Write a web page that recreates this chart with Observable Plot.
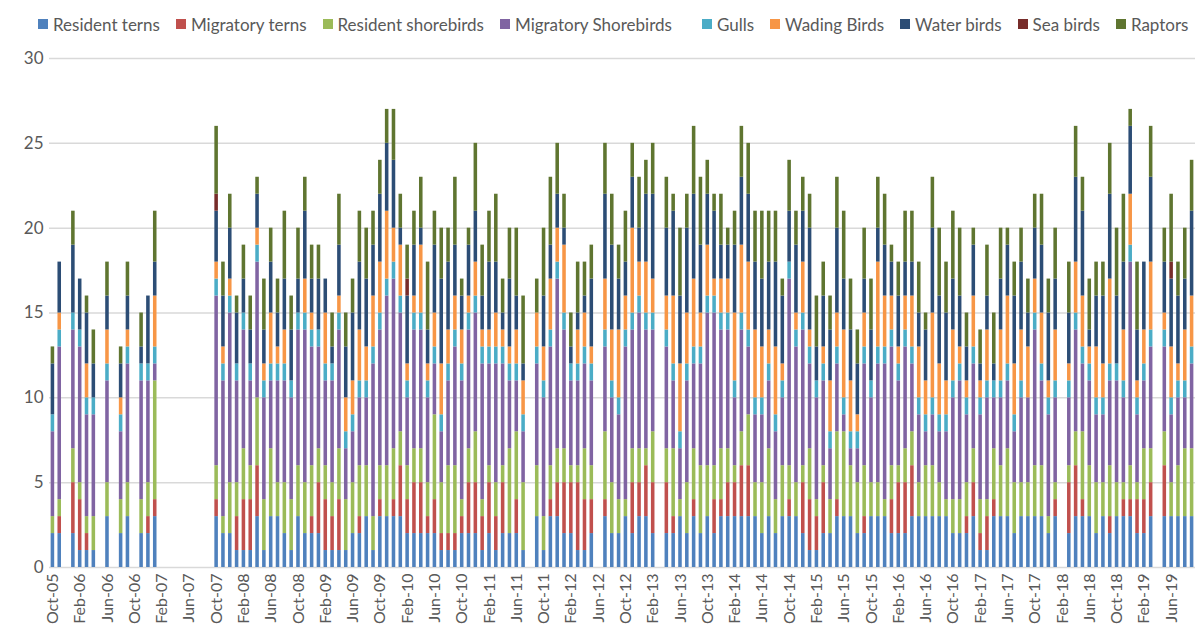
<!DOCTYPE html>
<html>
<head>
<meta charset="utf-8">
<script src="https://cdn.jsdelivr.net/npm/d3@7"></script>
<script src="https://cdn.jsdelivr.net/npm/@observablehq/plot@0.6"></script>
<style>
  body { margin: 0; background: #fff; font-family: Lato, "Open Sans", sans-serif; overflow: hidden; }
  #legend { height: 48px; display: flex; align-items: center; padding-left: 38px; gap: 16px; font-size: 17px; color: #595959; white-space: nowrap; }
  .item { display: flex; align-items: center; gap: 5px; }
  .item.wide { margin-right: 14px; }
  .sw { width: 10px; height: 10px; display: inline-block; }
</style>
</head>
<body>
<div id="legend"></div>
<div id="chart"></div>
<script>
// Categories (stack order bottom -> top) and colours
const categories = ["Resident terns", "Migratory terns", "Resident shorebirds", "Migratory Shorebirds", "Gulls", "Wading Birds", "Water birds", "Sea birds", "Raptors"];
const colors = ["#4F81BD", "#C0504D", "#9BBB59", "#8064A2", "#4BACC6", "#F79646", "#2C4D75", "#772C2A", "#5F7530"];

// Months Oct-05 .. Sep-19 (168 months)
const months = d3.utcMonths(new Date(Date.UTC(2005, 9, 1)), new Date(Date.UTC(2019, 9, 1))).map(d3.utcFormat("%b-%y"));
const tickLabels = months.filter((_, i) => i % 4 === 0);

// Series values, one per month (index 0 = Oct-05)
const residentTerns = [
  2,2,0,2,1,1,1,0,3,0, 2,3,0,2,2,3,0,0,0,0, 0,0,0,0,3,2,2,1,1,1, 3,1,3,3,2,1,3,2,2,2,
  1,1,1,1,2,2,3,1,3,3, 3,3,2,2,2,2,2,1,1,1, 2,2,2,1,2,1,2,2,2,1, 0,3,1,3,3,2,2,1,1,2,
  0,3,2,2,3,2,3,3,2,0, 2,2,3,2,3,2,3,2,3,3, 3,3,3,3,2,3,2,3,3,3, 2,1,1,2,2,3,3,3,2,2,
  3,3,3,2,2,2,3,3,3,3, 3,3,2,2,2,3,1,1,3,3, 3,2,3,3,3,3,2,3,0,2, 3,3,3,2,3,2,3,3,3,2,
  2,3,0,3,3,3,3,3];
const migratoryTerns = [
  0,1,0,3,3,1,0,0,0,0, 0,0,0,0,1,1,0,0,0,0, 0,0,0,0,1,0,0,2,3,3, 3,0,0,0,0,0,0,0,1,3,
  3,2,3,0,0,1,0,0,1,0, 1,3,2,3,3,1,2,1,1,1, 1,3,3,2,3,2,3,0,2,0, 0,0,0,1,2,3,3,4,3,2,
  0,1,0,0,0,3,2,3,3,0, 3,1,0,0,1,0,0,2,1,2, 2,3,3,0,0,0,0,0,1,0, 3,3,2,3,0,1,0,0,0,1,
  0,0,0,2,3,3,3,0,0,0, 0,0,0,0,1,2,1,2,1,0, 0,0,0,0,0,0,0,1,0,3, 3,1,0,0,0,1,0,1,1,2,
  2,2,0,3,0,0,0,0];
const residentShorebirds = [
  1,1,0,2,1,1,2,0,2,0, 2,2,0,2,2,7,0,0,0,0, 0,0,0,0,2,1,3,2,3,2, 4,3,4,2,3,3,3,3,3,2,
  2,2,3,3,3,3,3,2,2,3, 3,2,2,2,2,2,5,3,4,4, 1,2,3,1,1,2,1,5,4,4, 0,3,2,2,2,2,1,1,3,2,
  0,4,3,2,1,2,2,1,3,0, 2,4,1,3,3,4,3,2,3,2, 1,2,3,2,3,4,2,3,2,2, 1,3,1,1,2,4,5,3,3,3,
  2,2,1,2,1,2,2,2,3,3, 2,1,2,2,2,2,2,1,3,3, 4,3,2,2,3,3,1,1,0,1, 2,4,3,3,2,3,2,1,2,1,
  3,2,0,2,2,3,4,4];
const migratoryShorebirds = [
  5,9,0,7,8,6,6,0,6,0, 4,7,0,7,6,1,0,0,0,0, 0,0,0,0,10,8,10,6,7,5, 8,6,4,6,6,6,8,9,7,6,
  5,6,7,3,3,4,4,9,8,10, 10,7,4,7,7,5,3,3,5,7, 7,7,7,8,6,7,6,4,3,3, 0,6,7,7,10,7,5,5,5,5,
  0,5,5,5,9,7,8,7,6,0, 6,4,3,6,5,6,9,9,7,7, 4,6,4,4,4,4,4,4,11,8, 8,5,6,5,3,4,1,1,2,6,
  5,7,8,7,5,6,4,4,2,3, 3,4,6,7,4,5,5,6,3,4, 4,3,5,5,8,5,6,5,0,4, 6,4,5,4,4,5,6,5,12,4,
  4,6,0,5,4,4,3,5];
const gulls = [
  1,1,0,1,1,1,1,0,1,0, 1,1,0,1,1,1,0,0,0,0, 0,0,0,0,1,1,1,1,1,1, 1,1,1,1,1,1,1,1,1,1,
  1,1,1,1,1,1,1,1,1,1, 1,1,1,1,1,1,1,1,1,1, 1,1,1,1,1,1,1,1,1,1, 0,1,1,1,1,1,1,1,1,1,
  0,1,1,1,1,1,1,1,1,0, 1,1,1,1,1,1,1,1,1,1, 1,1,1,1,1,1,1,1,1,1, 1,1,1,1,1,1,1,1,1,1,
  1,1,1,1,1,1,1,1,1,1, 1,1,1,1,1,1,1,1,1,1, 1,1,1,0,1,1,1,1,0,1, 1,1,1,1,1,1,1,1,1,1,
  1,1,0,1,1,1,1,1];
const wadingBirds = [
  0,1,0,0,0,2,0,0,2,0, 1,1,0,0,0,3,0,0,0,0, 0,0,0,0,1,1,1,0,0,0, 1,1,3,1,2,0,0,2,1,0,
  3,0,1,2,2,3,2,3,3,4, 2,3,1,1,4,1,2,3,2,2, 2,1,2,1,1,2,1,1,2,2, 0,2,2,3,2,4,0,2,2,1,
  0,3,3,4,2,5,2,3,2,0, 2,4,4,3,4,2,3,1,2,2, 4,4,4,4,3,2,4,1,0,1, 3,1,0,1,3,2,4,3,1,2,
  0,5,3,2,1,2,3,3,2,5, 3,2,3,1,1,3,1,3,0,3, 4,3,3,3,2,3,1,3,0,1, 3,3,1,3,2,5,0,3,3,1,
  2,4,0,1,3,1,3,3];
const waterBirds = [
  3,3,0,4,3,3,2,0,2,0, 2,2,0,1,4,2,0,0,0,0, 0,0,0,0,3,3,3,3,2,2, 2,2,3,2,3,3,2,4,2,3,
  2,1,3,3,4,4,4,3,4,4, 4,1,4,3,1,2,4,5,4,3, 2,3,3,2,4,3,1,4,2,1, 0,0,3,2,2,1,1,1,1,4,
  0,5,5,3,2,3,2,4,5,0, 4,5,4,5,5,4,3,4,2,2, 4,4,4,4,4,4,5,4,3,4, 3,6,2,3,3,5,3,3,3,2,
  3,2,3,2,3,2,2,2,3,5, 4,4,3,3,2,3,1,2,1,3, 3,4,4,2,3,4,4,3,0,3, 5,5,1,3,4,5,4,4,4,3,
  4,5,0,3,4,4,3,5];
const seaBirds = [
  0,0,0,0,0,0,0,0,0,0, 0,0,0,0,0,0,0,0,0,0, 0,0,0,0,1,0,0,0,0,0, 0,0,0,0,0,0,0,0,0,0,
  0,0,0,0,0,0,0,0,0,0, 0,0,1,0,0,0,0,0,0,0, 0,0,0,0,0,0,0,0,0,0, 0,0,0,0,0,0,0,0,0,0,
  0,0,0,0,0,0,0,0,0,0, 0,0,0,0,0,0,0,0,0,0, 0,0,0,0,0,0,0,0,0,0, 0,0,0,0,0,0,0,0,0,0,
  0,0,0,0,0,0,0,0,0,0, 0,0,0,0,0,0,0,0,0,0, 0,0,0,0,0,0,0,0,0,0, 0,0,0,0,0,0,0,0,0,0,
  0,0,0,0,1,0,0,0];
const raptors = [
  1,0,0,2,0,1,2,0,2,0, 1,2,0,2,0,3,0,0,0,0, 0,0,0,0,4,2,2,1,2,2, 1,3,2,2,4,2,3,2,2,2,
  0,2,3,2,2,3,3,2,2,2, 3,2,2,2,3,4,2,3,2,4, 1,1,4,3,3,4,2,3,4,4, 0,2,4,4,3,2,2,3,2,2,
  0,3,3,2,3,2,3,2,3,0, 3,1,4,2,4,4,2,1,3,1, 2,3,3,3,4,3,3,1,3,2, 2,2,3,2,2,3,4,3,2,3,
  3,3,3,1,2,3,3,3,1,3, 4,3,4,4,2,1,2,3,3,3, 1,2,2,2,2,3,2,3,0,3, 3,2,3,2,2,3,4,4,1,4,
  0,3,0,2,4,2,3,3];

const seriesValues = [residentTerns, migratoryTerns, residentShorebirds, migratoryShorebirds, gulls, wadingBirds, waterBirds, seaBirds, raptors];

const data = months.flatMap((m, i) => categories.map((c, k) => ({month: m, category: c, value: seriesValues[k][i]})));

// Legend
const legend = document.getElementById("legend");
categories.forEach((c, k) => {
  const it = document.createElement("div");
  it.className = "item" + (k === 3 ? " wide" : "");
  const sw = document.createElement("span");
  sw.className = "sw";
  sw.style.background = colors[k];
  const tx = document.createElement("span");
  tx.textContent = c;
  it.appendChild(sw); it.appendChild(tx);
  legend.appendChild(it);
});

const chart = Plot.plot({
  width: 1198,
  height: 589,
  marginTop: 10,
  marginBottom: 70,
  marginLeft: 49,
  marginRight: 3,
  style: {fontFamily: "Lato, 'Open Sans', sans-serif", background: "#fff", color: "#595959"},
  x: {type: "band", domain: months, paddingInner: 0.48, paddingOuter: 0.24, label: null},
  y: {domain: [0, 30], label: null},
  color: {domain: categories, range: colors},
  marks: [
    Plot.gridY({ticks: d3.range(5, 31, 5), stroke: "#d9d9d9", strokeOpacity: 1, strokeWidth: 1.5}),
    Plot.ruleY([0], {stroke: "#d9d9d9", strokeWidth: 1.5}),
    Plot.barY(data, {x: "month", y: "value", fill: "category"}),
    Plot.axisY({ticks: d3.range(0, 31, 5), tickSize: 0, tickPadding: 6, fontSize: 17, fill: "#595959", label: null}),
    Plot.axisX({ticks: tickLabels, tickSize: 0, tickPadding: 6, tickRotate: -90, fontSize: 16, fill: "#595959", label: null})
  ]
});
document.getElementById("chart").appendChild(chart);
</script>
</body>
</html>
